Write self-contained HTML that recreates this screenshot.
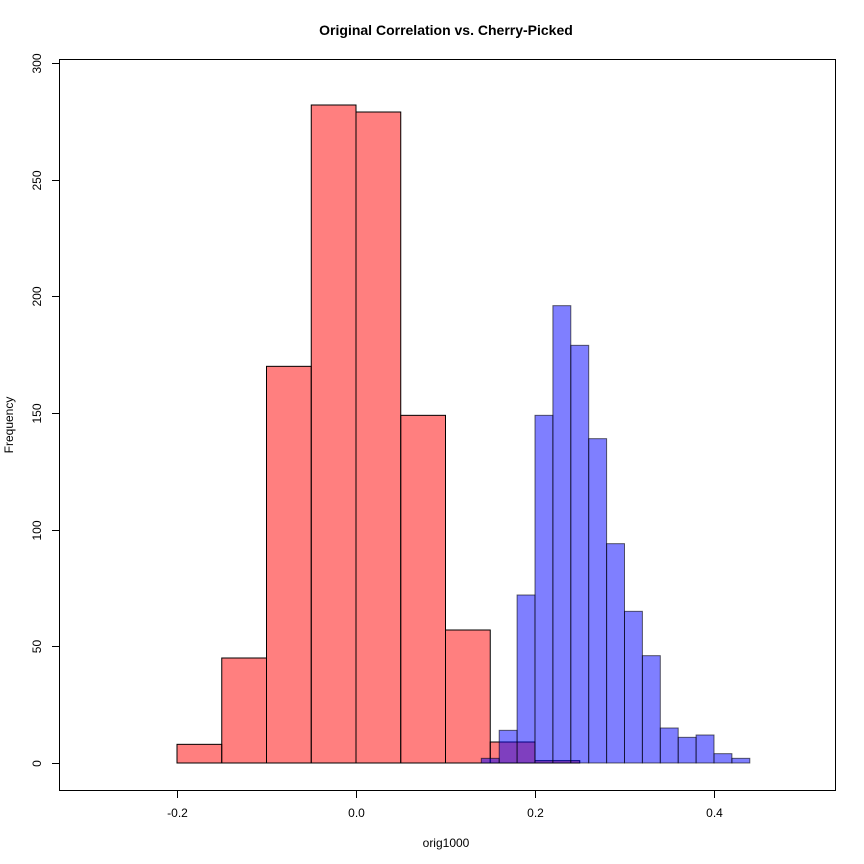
<!DOCTYPE html>
<html><head><meta charset="utf-8"><style>
html,body{margin:0;padding:0;background:#fff;}
svg{display:block;font-family:"Liberation Sans",Arial,sans-serif;}
</style></head><body>
<svg id="chart" width="864" height="864"></svg>
<script>
const redBreaks = [-0.2,-0.15,-0.1,-0.05,0,0.05,0.1,0.15,0.2,0.25];
const redCounts = [8,45,170,282,279,149,57,9,1];
const blueBreaks = [0.14,0.16,0.18,0.2,0.22,0.24,0.26,0.28,0.3,0.32,0.34,0.36,0.38,0.4,0.42,0.44];
const blueCounts = [2,14,72,149,196,179,139,94,65,46,15,11,12,4,2];
const xTicks = [-0.2,0,0.2,0.4];
const xTickLabels = ["-0.2","0.0","0.2","0.4"];
const yTicks = [0,50,100,150,200,250,300];

const NS="http://www.w3.org/2000/svg";
const svg=document.getElementById('chart');
const X=v=>356+v*895;
const Y=v=>763-v*(700/300);
function el(t,a,p){const e=document.createElementNS(NS,t);for(const k in a)e.setAttribute(k,a[k]);(p||svg).appendChild(e);return e;}

const title=el('text',{x:446,y:35,'text-anchor':'middle','font-size':14,'font-weight':'bold'});
title.textContent='Original Correlation vs. Cherry-Picked';



const gR=el('g',{});


redCounts.forEach((c,i)=>{
  const r=el('rect',{x:X(redBreaks[i]),y:Y(c),width:X(redBreaks[i+1])-X(redBreaks[i]),height:Y(0)-Y(c),fill:'rgba(255,0,0,0.5)',stroke:'#000','stroke-width':1},gR);
  
  
});
const gB=el('g',{});


blueCounts.forEach((c,i)=>{
  const r=el('rect',{x:X(blueBreaks[i]),y:Y(c),width:X(blueBreaks[i+1])-X(blueBreaks[i]),height:Y(0)-Y(c),fill:'rgba(0,0,255,0.5)',stroke:'rgba(0,0,0,0.6)','stroke-width':1},gB);
  
  
});

const box=el('rect',{x:59.5,y:59.5,width:776,height:731,fill:'none',stroke:'#000','stroke-width':1});



xTicks.forEach((v,i)=>{
  const x=Math.round(X(v))+0.5;
  el('line',{x1:x,x2:x,y1:791,y2:798,stroke:'#000'});
  const t=el('text',{x:x,y:817,'text-anchor':'middle','font-size':12});
  t.textContent=xTickLabels[i];
  
  
});
yTicks.forEach(v=>{
  const y=Math.round(Y(v))+0.5;
  el('line',{x1:52,x2:59,y1:y,y2:y,stroke:'#000'});
  const t=el('text',{x:41,y:y,'text-anchor':'middle','font-size':12,transform:`rotate(-90 41 ${y})`});
  t.textContent=v;
  
  
});
const xl=el('text',{x:446,y:847,'text-anchor':'middle','font-size':12});
xl.textContent='orig1000';


const yl=el('text',{x:13,y:425,'text-anchor':'middle','font-size':12,transform:'rotate(-90 13 425)'});
yl.textContent='Frequency';


</script>
</body></html>
